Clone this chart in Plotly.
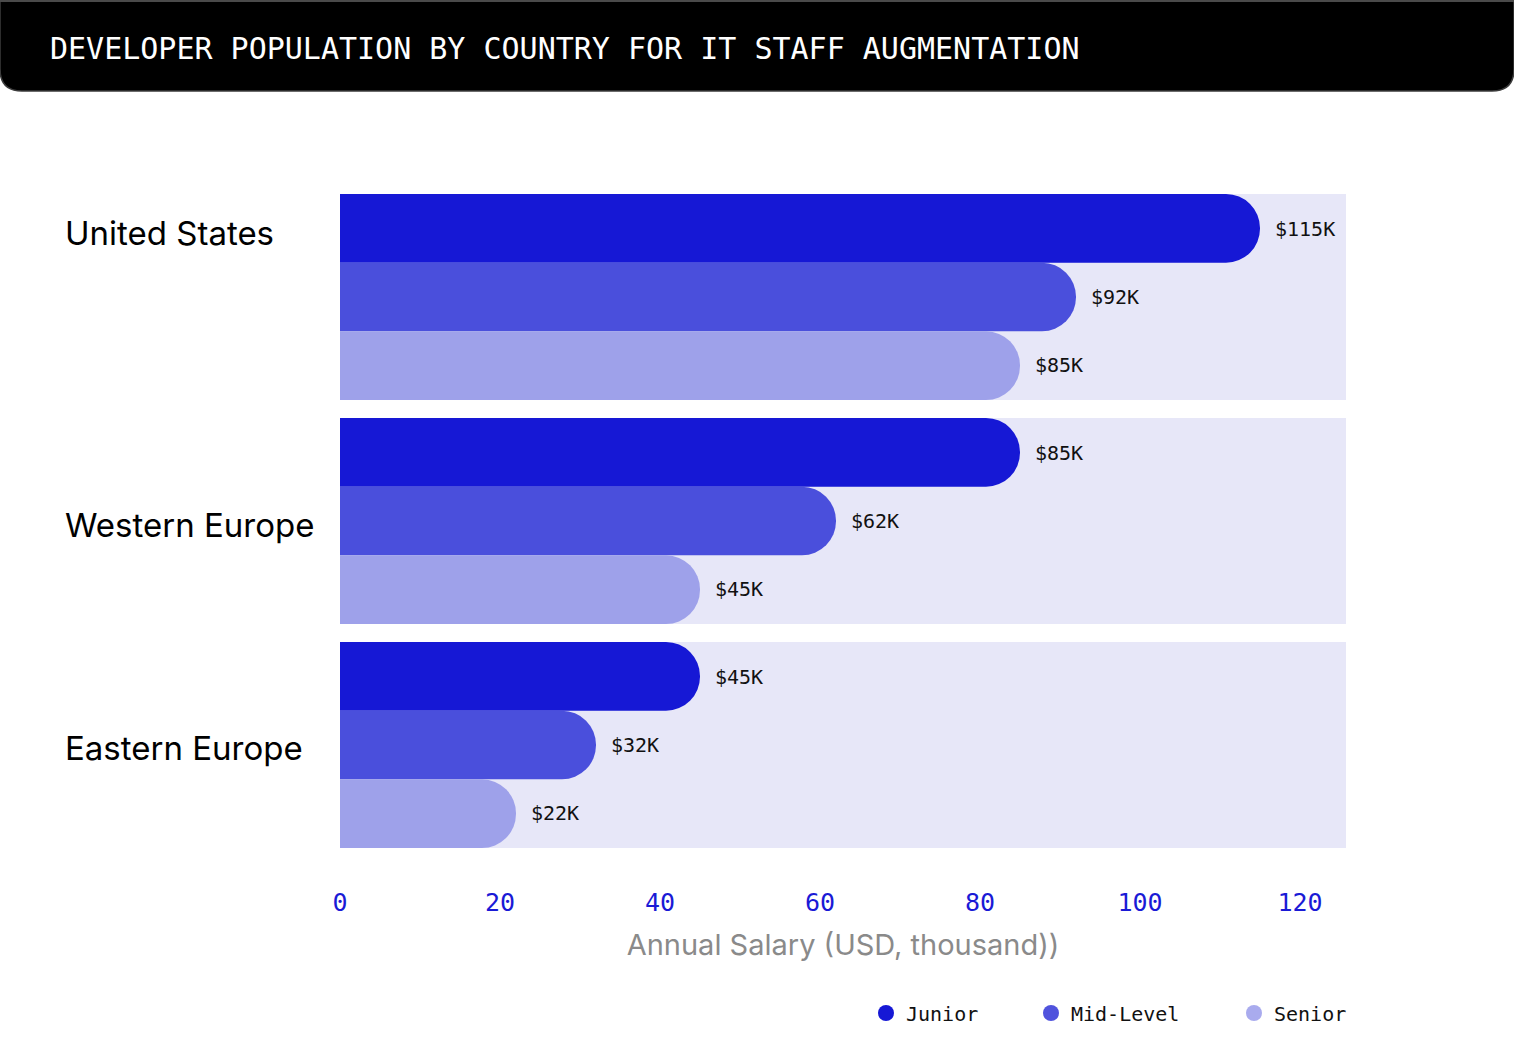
import plotly.graph_objects as go

# ---- data ----
regions = ["United States", "Western Europe", "Eastern Europe"]
levels = ["Junior", "Mid-Level", "Senior"]
junior = [115, 85, 45]
mid_level = [92, 62, 32]
senior = [85, 45, 22]
series = [junior, mid_level, senior]
x_ticks = [0, 20, 40, 60, 80, 100, 120]
title_text = "DEVELOPER POPULATION BY COUNTRY FOR IT STAFF AUGMENTATION"
x_title = "Annual Salary (USD, thousand))"

# ---- style ----
W, H = 1514, 1052
bar_colors = ["#1618d5", "#4a4fdc", "#9ea1ea"]
legend_colors = ["#1618d5", "#5053dd", "#a9abee"]
bg_color = "#e7e7f8"
mono = "DejaVu Sans Mono"
sans = "Inter"

px0, px1 = 340, 1346          # plot area left/right in pixels
py0, py1 = 185, 857           # plot area top/bottom in pixels
px_per_unit = 8.0
x_max = (px1 - px0) / px_per_unit


def fx(p):
    return p / W


def fy(p):
    return 1 - p / H


fig = go.Figure()

for name, vals, col in zip(levels, series, bar_colors):
    fig.add_trace(go.Bar(
        y=regions, x=vals, name=name, orientation="h",
        marker=dict(color=col, cornerradius="50%", line=dict(width=0)),
        showlegend=False, hoverinfo="x+y+name",
    ))

# legend-only circle traces, each in its own legend for exact placement
legend_ids = ["legend", "legend2", "legend3"]
for name, col, lid in zip(levels, legend_colors, legend_ids):
    fig.add_trace(go.Scatter(
        x=[None], y=[None], mode="markers", name=name,
        marker=dict(color=col, size=16, symbol="circle"),
        legend=lid, showlegend=True,
    ))

# bar value labels
n = len(levels)
cat_px = (py1 - py0) / len(regions)
bar_px = 68
annotations = []
for k, vals in enumerate(series):
    off = (k - (n - 1) / 2) * bar_px / cat_px
    for i, v in enumerate(vals):
        annotations.append(dict(
            x=v, y=i + off, xref="x", yref="y", text=f"${v}K",
            showarrow=False, xanchor="left", yanchor="middle", xshift=13,
            font=dict(family=mono, size=20, color="#111111"),
        ))

# region labels
region_yshift = [64, -4, -3]
for i, r in enumerate(regions):
    annotations.append(dict(
        x=fx(63), y=i, xref="paper", yref="y", text=r, showarrow=False,
        xanchor="left", yanchor="middle", yshift=region_yshift[i],
        font=dict(family=sans, size=33, color="#000000"),
    ))

# title
annotations.append(dict(
    x=fx(48), y=fy(49), xref="paper", yref="paper", text=title_text,
    showarrow=False, xanchor="left", yanchor="middle",
    font=dict(family=mono, size=30, color="#ffffff"),
))

shapes = []
# header bar with rounded bottom corners
r = 22
hb = 91
path = (f"M {fx(0)},{fy(0)} L {fx(W)},{fy(0)} L {fx(W)},{fy(hb - r)} "
        f"Q {fx(W)},{fy(hb)} {fx(W - r)},{fy(hb)} L {fx(r)},{fy(hb)} "
        f"Q {fx(0)},{fy(hb)} {fx(0)},{fy(hb - r)} Z")
shapes.append(dict(type="path", path=path, xref="paper", yref="paper",
                   fillcolor="#000000", line=dict(color="#3c3c3c", width=1.5), layer="above"))
shapes.append(dict(type="rect", xref="paper", yref="paper", x0=0, x1=1, y0=fy(2), y1=1,
                   fillcolor="#4a4a4a", line=dict(width=0), layer="above"))

# background bands
band_half = 206 / 2 / cat_px
for i in range(len(regions)):
    shapes.append(dict(type="rect", xref="x domain", yref="y", x0=0, x1=1,
                       y0=i - band_half, y1=i + band_half,
                       fillcolor=bg_color, line=dict(width=0), layer="below"))

fig.update_layout(
    width=W, height=H,
    margin=dict(l=0, r=0, t=0, b=0),
    paper_bgcolor="#ffffff", plot_bgcolor="rgba(0,0,0,0)",
    barmode="group", bargap=18 / cat_px, bargroupgap=0,
    shapes=shapes, annotations=annotations,
    xaxis=dict(
        domain=[fx(px0), fx(px1)], range=[0, x_max],
        tickvals=x_ticks, ticktext=[str(t) for t in x_ticks],
        showgrid=False, zeroline=False, showline=False, ticks="",
        tickfont=dict(family=mono, size=25, color="#1a1ad6"),
        ticklabelstandoff=28,
        title=dict(text=x_title, font=dict(family=sans, size=29, color="#8a8a8a"), standoff=18),
        automargin=False, fixedrange=True,
    ),
    yaxis=dict(
        domain=[fy(py1), fy(py0)], range=[len(regions) - 0.5, -0.5],
        showticklabels=False, showgrid=False, zeroline=False, showline=False, ticks="",
        automargin=False, fixedrange=True,
    ),
    font=dict(family=mono),
)

leg_common = dict(orientation="h", xanchor="left", yanchor="middle",
                  bgcolor="rgba(0,0,0,0)", borderwidth=0,
                  font=dict(family=mono, size=20, color="#111111"))
fig.update_layout(
    legend=dict(x=fx(866), y=fy(1013), **leg_common),
    legend2=dict(x=fx(1031), y=fy(1013), **leg_common),
    legend3=dict(x=fx(1234), y=fy(1013), **leg_common),
)

fig.write_html("out.html")
